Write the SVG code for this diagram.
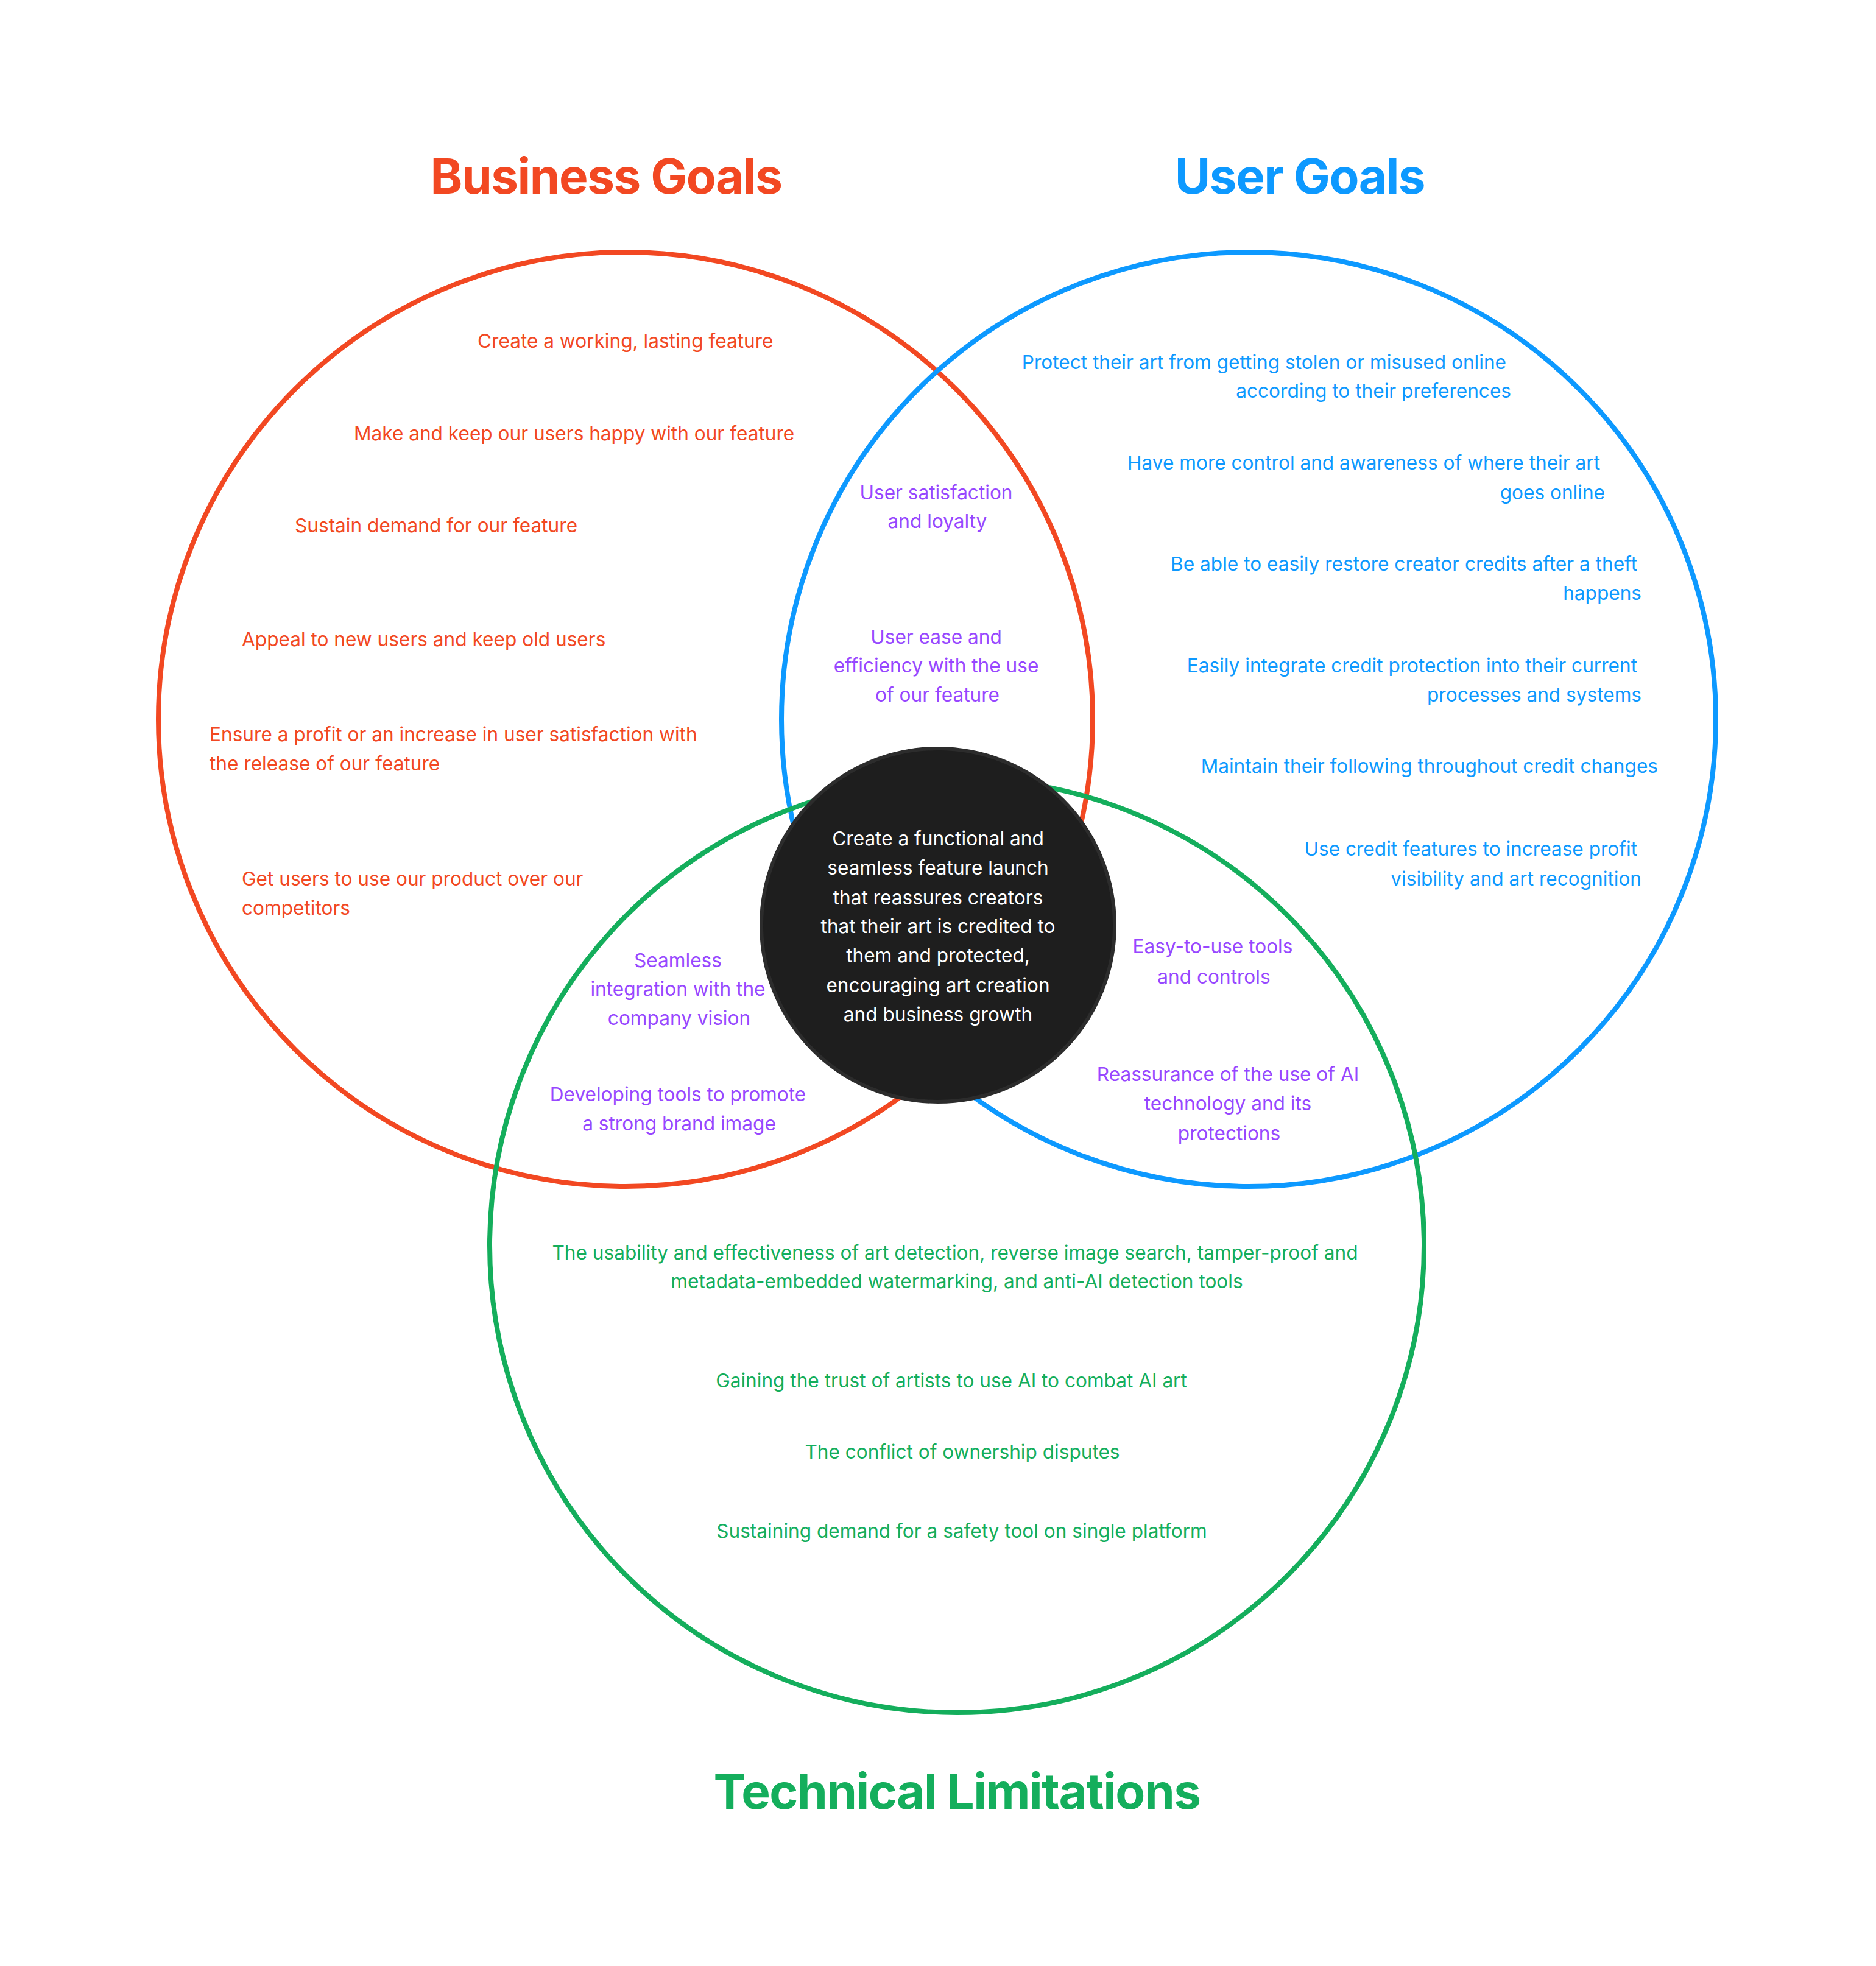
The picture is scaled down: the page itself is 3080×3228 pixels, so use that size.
<svg xmlns="http://www.w3.org/2000/svg" width="3080" height="3228" viewBox="0 0 3080 3228">
<style>
.t{font-family:Inter,"Noto Sans","Liberation Sans",sans-serif;font-size:31.6px}
.ti{font-family:Inter,"Noto Sans","Liberation Sans",sans-serif;font-size:80px;font-weight:700;letter-spacing:-1.5px;text-anchor:middle}
.r{fill:#F24822}.b{fill:#0D99FF}.g{fill:#14AE5C}.p{fill:#9747FF}.w{fill:#FFFFFF}
.c{text-anchor:middle}.e{text-anchor:end}
.ring{fill:none;stroke-width:8}
</style>
<rect width="3080" height="3228" fill="#FFFFFF"/>
<g id="titles">
<text class="ti r" x="995" y="318">Business Goals</text>
<text class="ti b" x="2134" y="318">User Goals</text>
<text class="ti g" x="1571" y="2970">Technical Limitations</text>
</g>
<g id="circles">
<circle id="business" class="ring" cx="1027" cy="1181" r="767" stroke="#F24822"/>
<circle id="user" class="ring" cx="2050" cy="1181" r="767" stroke="#0D99FF"/>
<circle id="technical" class="ring" cx="1571" cy="2045" r="767" stroke="#14AE5C"/>
</g>
<g id="business-items" class="t r">
<text x="784" y="571">Create a working, lasting feature</text>
<text x="581" y="723">Make and keep our users happy with our feature</text>
<text x="484" y="874">Sustain demand for our feature</text>
<text x="397" y="1061">Appeal to new users and keep old users</text>
<text x="344" y="1217">Ensure a profit or an increase in user satisfaction with</text>
<text x="344" y="1265">the release of our feature</text>
<text x="397" y="1454">Get users to use our product over our</text>
<text x="397" y="1502">competitors</text>
</g>
<g id="user-items" class="t b e">
<text x="2473" y="606">Protect their art from getting stolen or misused online</text>
<text x="2481" y="653">according to their preferences</text>
<text x="2627" y="771">Have more control and awareness of where their art</text>
<text x="2635" y="820">goes online</text>
<text x="2688" y="937">Be able to easily restore creator credits after a theft</text>
<text x="2695" y="985">happens</text>
<text x="2688" y="1104">Easily integrate credit protection into their current</text>
<text x="2695" y="1152">processes and systems</text>
<text x="2722" y="1269">Maintain their following throughout credit changes</text>
<text x="2688" y="1405">Use credit features to increase profit</text>
<text x="2695" y="1454">visibility and art recognition</text>
</g>
<g id="overlap-items" class="t p c">
<text x="1537" y="820">User satisfaction</text>
<text x="1539" y="867">and loyalty</text>
<text x="1537" y="1057">User ease and</text>
<text x="1537" y="1104">efficiency with the use</text>
<text x="1539" y="1152">of our feature</text>
<text x="1113" y="1588">Seamless</text>
<text x="1113" y="1635">integration with the</text>
<text x="1115" y="1683">company vision</text>
<text x="1113" y="1808">Developing tools to promote</text>
<text x="1115" y="1856">a strong brand image</text>
<text x="1991" y="1565">Easy-to-use tools</text>
<text x="1993" y="1615">and controls</text>
<text x="2016" y="1775">Reassurance of the use of AI</text>
<text x="2016" y="1823">technology and its</text>
<text x="2018" y="1872">protections</text>
</g>
<g id="technical-items" class="t g c">
<text x="1568" y="2068">The usability and effectiveness of art detection, reverse image search, tamper-proof and</text>
<text x="1571" y="2115">metadata-embedded watermarking, and anti-AI detection tools</text>
<text x="1562" y="2278">Gaining the trust of artists to use AI to combat AI art</text>
<text x="1580" y="2395">The conflict of ownership disputes</text>
<text x="1579" y="2525">Sustaining demand for a safety tool on single platform</text>
</g>
<g id="center">
<circle cx="1540" cy="1519" r="290" fill="#1E1E1E" stroke="#2C2C2C" stroke-width="6"/>
<g class="t w c">
<text x="1540" y="1388">Create a functional and</text>
<text x="1540" y="1436">seamless feature launch</text>
<text x="1540" y="1485">that reassures creators</text>
<text x="1540" y="1532">that their art is credited to</text>
<text x="1540" y="1580">them and protected,</text>
<text x="1540" y="1629">encouraging art creation</text>
<text x="1540" y="1677">and business growth</text>
</g>
</g>
<g id="connectors"/>
</svg>
